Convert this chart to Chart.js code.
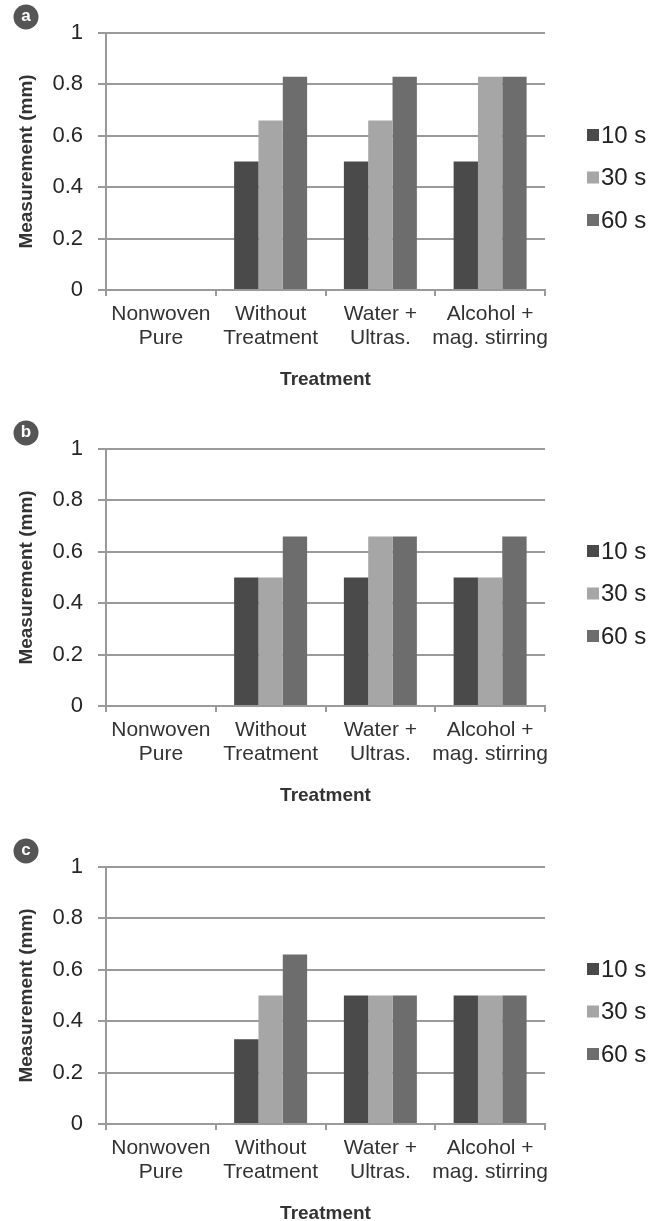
<!DOCTYPE html>
<html>
<head>
<meta charset="utf-8">
<script src="https://cdn.jsdelivr.net/npm/chart.js@4.4.1/dist/chart.umd.min.js"></script>
<style>
  html, body { margin: 0; padding: 0; background: #fff; width: 662px; height: 1221px; overflow: hidden; }
  .panel { position: absolute; left: 0; width: 662px; height: 416px; }
  canvas { display: block; }
</style>
</head>
<body>
<div class="panel" style="top:0px"><canvas id="chartA" width="662" height="416"></canvas></div>
<div class="panel" style="top:416px"><canvas id="chartB" width="662" height="416"></canvas></div>
<div class="panel" style="top:834px"><canvas id="chartC" width="662" height="416"></canvas></div>
<script>
// Treatments on the x axis (two-line labels)
const categories = [
  ['Nonwoven', 'Pure'],
  ['Without', 'Treatment'],
  ['Water +', 'Ultras.'],
  ['Alcohol +', 'mag. stirring']
];
const seriesNames = ['10 s', '30 s', '60 s'];
const seriesColors = ['#4a4a4a', '#a6a6a6', '#6d6d6d'];
const yTicks = [0, 0.2, 0.4, 0.6, 0.8, 1];
const yTickLabels = ['0', '0.2', '0.4', '0.6', '0.8', '1'];
const xTitle = 'Treatment';
const yTitle = 'Measurement (mm)';

// Panel a
const a10 = [0, 0.5, 0.5, 0.5];
const a30 = [0, 0.66, 0.66, 0.83];
const a60 = [0, 0.83, 0.83, 0.83];
// Panel b
const b10 = [0, 0.5, 0.5, 0.5];
const b30 = [0, 0.5, 0.66, 0.5];
const b60 = [0, 0.66, 0.66, 0.66];
// Panel c
const c10 = [0, 0.33, 0.5, 0.5];
const c30 = [0, 0.5, 0.5, 0.5];
const c60 = [0, 0.66, 0.5, 0.5];

const FONT = "'Liberation Sans', Arial, Helvetica, sans-serif";
const GRID = '#9a9a9a';

// Legend drawn in the right margin from the chart's own datasets
const sideLegend = {
  id: 'sideLegend',
  afterDraw(chart) {
    const ctx = chart.ctx;
    ctx.save();
    ctx.font = '24px ' + FONT;
    ctx.textBaseline = 'middle';
    ctx.textAlign = 'left';
    chart.data.datasets.forEach((ds, i) => {
      const y = 135 + i * 42.5;
      ctx.fillStyle = ds.backgroundColor;
      ctx.fillRect(587, y - 6, 12, 12);
      ctx.fillStyle = '#222';
      ctx.fillText(ds.label, 601, y + 1);
    });
    ctx.restore();
  }
};

// Round panel badge in the top-left corner
const panelBadge = {
  id: 'panelBadge',
  afterDraw(chart, args, opts) {
    const ctx = chart.ctx;
    ctx.save();
    ctx.fillStyle = '#555';
    ctx.beginPath();
    ctx.arc(26, 17, 12.5, 0, Math.PI * 2);
    ctx.fill();
    ctx.fillStyle = '#fff';
    ctx.font = 'bold 17px ' + FONT;
    ctx.textAlign = 'center';
    ctx.textBaseline = 'middle';
    ctx.fillText(opts.letter, 26, 16);
    ctx.restore();
  }
};

function makeChart(id, letter, s10, s30, s60) {
  const values = [s10, s30, s60];
  return new Chart(document.getElementById(id), {
    type: 'bar',
    data: {
      labels: categories,
      datasets: seriesNames.map((name, i) => ({
        label: name,
        data: values[i],
        backgroundColor: seriesColors[i],
        borderWidth: 0,
        categoryPercentage: 0.665,
        barPercentage: 1.0
      }))
    },
    plugins: [sideLegend, panelBadge],
    options: {
      responsive: false,
      animation: false,
      devicePixelRatio: 1,
      layout: { padding: { left: 0, top: 33, right: 117, bottom: 25 } },
      plugins: {
        legend: { display: false },
        tooltip: { enabled: false },
        panelBadge: { letter: letter }
      },
      scales: {
        x: {
          grid: { offset: true, drawOnChartArea: false, drawTicks: true, tickLength: 6, color: GRID, lineWidth: 2 },
          border: { display: true, color: GRID, width: 2 },
          ticks: { font: { family: FONT, size: 21, lineHeight: 1.14 }, color: '#333', padding: 6, maxRotation: 0, autoSkip: false },
          title: { display: true, text: xTitle, font: { family: FONT, size: 19, weight: 'bold' }, color: '#333', padding: { top: 0, bottom: 0 } },
          afterFit(s) { s.height = 101; }
        },
        y: {
          min: 0,
          max: 1,
          afterBuildTicks(s) { s.ticks = yTicks.map(v => ({ value: v })); },
          grid: { color: GRID, lineWidth: 2, drawTicks: true, tickLength: 8 },
          border: { display: true, color: GRID, width: 2 },
          ticks: {
            font: { family: FONT, size: 22 },
            color: '#262626',
            padding: 15,
            callback: (v, i) => yTickLabels[i]
          },
          title: { display: true, text: yTitle, font: { family: FONT, size: 19, weight: 'bold' }, color: '#333', padding: { top: 15, bottom: 0 } },
          afterFit(s) { s.width = 106; }
        }
      }
    }
  });
}

makeChart('chartA', 'a', a10, a30, a60);
makeChart('chartB', 'b', b10, b30, b60);
makeChart('chartC', 'c', c10, c30, c60);
</script>
</body>
</html>
